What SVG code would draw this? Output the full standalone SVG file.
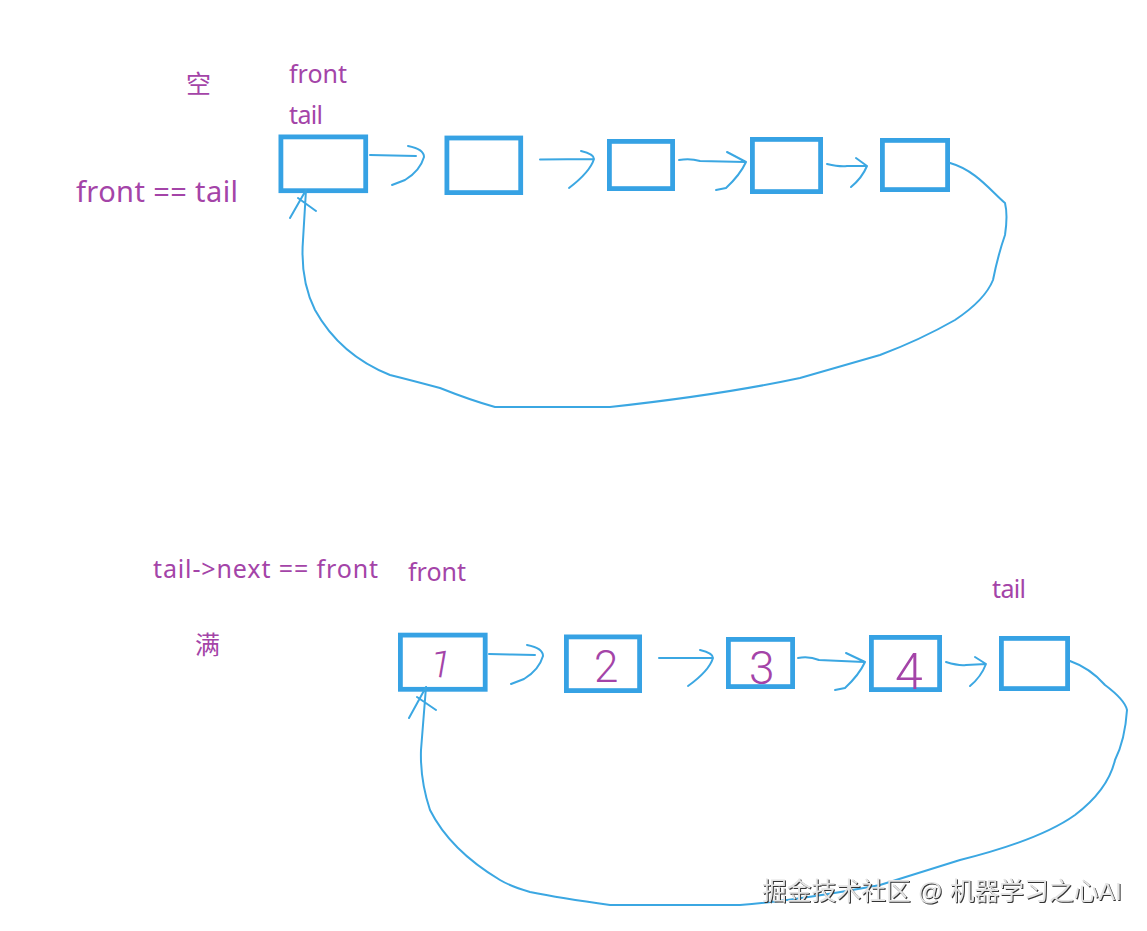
<svg xmlns="http://www.w3.org/2000/svg" width="1147" height="931" viewBox="0 0 1147 931">
<style>
.box{fill:#fff;stroke:#36a2e4;stroke-width:4.8}
.ln{fill:none;stroke:#3ba7e2;stroke-width:2;stroke-linecap:round;stroke-linejoin:round}
.t{font-family:"Noto Sans","Open Sans","Noto Sans CJK SC",sans-serif;fill:#a444a8}
.cn{font-family:"Noto Sans CJK SC",sans-serif;fill:#a444a8;font-size:25px}
.d{font-family:Roboto,"Liberation Sans",sans-serif;fill:#a444a8;font-weight:300}
.wm{font-family:"Liberation Sans","Noto Sans CJK SC",sans-serif;font-size:24.8px;fill:#e4e4e4;filter:drop-shadow(1px 1px 0.6px #333)}
</style>
<rect width="1147" height="931" fill="#fff"/>
<g id="n1"><rect class="box" x="280.9" y="136.9" width="84.8" height="53.8"/></g>
<g id="n2"><rect class="box" x="446.9" y="138" width="73.8" height="54.6"/></g>
<g id="n3"><rect class="box" x="609.4" y="141.4" width="63.2" height="47.2"/></g>
<g id="n4"><rect class="box" x="752.4" y="139.4" width="68.2" height="52.2"/></g>
<g id="n5"><rect class="box" x="882.4" y="140.4" width="65.2" height="49.2"/></g>
<g id="m1"><rect class="box" x="400.4" y="635.1" width="84.8" height="54.2"/><text class="d" x="431" y="677" font-size="38" transform="rotate(10 440 662)">1</text></g>
<g id="m2"><rect class="box" x="566.4" y="636.9" width="73.2" height="53.7"/><text class="d" x="594" y="682" font-size="44">2</text></g>
<g id="m3"><rect class="box" x="728.4" y="639.4" width="64.2" height="47.2"/><text class="d" x="749" y="684" font-size="46">3</text></g>
<g id="m4"><rect class="box" x="871.4" y="637.4" width="68.2" height="52.2"/><text class="d" x="895" y="689" font-size="50">4</text></g>
<g id="m5"><rect class="box" x="1001.4" y="638.4" width="66.2" height="50.2"/></g>
<g id="connectors">
<path class="ln" d="M370 155L393 155.5L416 156M408 146Q424 149 424 157Q420 171 405 180L392 185"/>
<path class="ln" d="M540 159.5L594 159M581 151Q594 154 594 159Q590 172 569 188"/>
<path class="ln" d="M679 160Q690 158 700 161L745 162M727 152L746 162Q740 175 726 188L716 190"/>
<path class="ln" d="M827 164Q840 167 847 166L867 166M856 158L867 166Q862 178 851 187"/>
<path class="ln" d="M950 163C975 170 990 190 1005 203Q1008 215 1005 235Q998 255 993 280Q985 300 955 320Q920 340 880 355L800 378Q720 395 610 407L495 407Q470 400 440 388Q410 380 390 375Q340 355 315 310Q300 280 303 240L306 190M306 190L290 218M298 198L316 211"/>
<path class="ln" d="M489 654L512 654.5L535 655M527 645Q543 648 543 656Q539 670 524 679L511 684"/>
<path class="ln" d="M659 658L713 658M700 650Q713 653 713 658Q709 671 688 686"/>
<path class="ln" d="M798 658Q809 656 819 660L864 662M846 653L865 662Q859 675 845 688L835 690"/>
<path class="ln" d="M946 662Q959 666 966 665L986 664M975 657L986 664Q981 677 970 686"/>
<path class="ln" d="M1070 661Q1090 668 1105 685Q1125 700 1127 710Q1125 740 1115 760Q1108 790 1075 815Q1040 840 960 860L880 885Q800 900 740 905L610 905Q560 898 530 892Q510 886 500 880Q450 850 430 810Q420 780 421 750L426 687M426 687L409 718M417 697L436 710"/>
</g>
<text class="cn" x="186" y="93">空</text>
<text class="t" x="289" y="83" font-size="25">front</text>
<text class="t" x="289" y="124" font-size="25" textLength="34">tail</text>
<text class="t" x="76" y="202" font-size="29" textLength="162">front == tail</text>
<text class="t" x="153" y="578" font-size="25" textLength="225">tail-&gt;next == front</text>
<text class="t" x="408" y="581" font-size="25">front</text>
<text class="cn" x="195" y="654">满</text>
<text class="t" x="992" y="598" font-size="25" textLength="34">tail</text>
<text class="wm" x="762" y="900">掘金技术社区 @ 机器学习之心AI</text>
</svg>
